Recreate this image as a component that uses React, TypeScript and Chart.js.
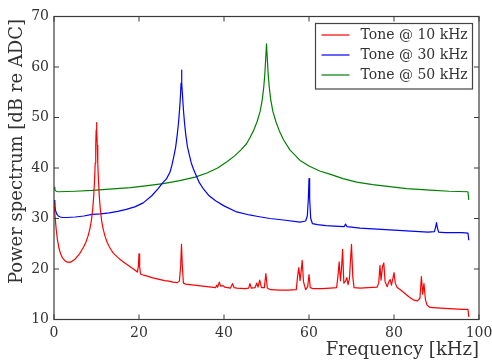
import React, { useEffect, useRef } from "react";
import { Chart, registerables } from "chart.js";

Chart.register(...registerables);

// ---------- data ----------
const seriesLabels = ["Tone @ 10 kHz", "Tone @ 30 kHz", "Tone @ 50 kHz"];
const seriesColors = ["#ff0000", "#0000ff", "#008000"];
const xAxisTitle = "Frequency [kHz]";
const yAxisTitle = "Power spectrum [dB re ADC]";

const xTickValues = [0, 20, 40, 60, 80, 100];
const yTickValues = [10, 20, 30, 40, 50, 60, 70];

const redFreq = [
  0, 0.2, 0.5, 0.8, 1.2, 1.6, 2.0, 2.5, 3.0, 3.5, 4.0, 4.5, 5.0, 5.5, 6.0, 6.5, 7.0, 7.5, 8.0, 8.4, 8.8,
  9.1, 9.35, 9.55, 9.7, 9.82, 9.92, 10.0, 10.08, 10.18, 10.3, 10.45, 10.65, 10.9, 11.2, 11.6, 12.0, 12.5, 13.0,
  13.5, 14.0, 15.0, 16.0, 17.0, 18.0, 19.0, 19.6, 19.85, 20.0, 20.15, 20.35, 21, 22, 23, 24, 25, 26, 27,
  28, 29, 29.5, 29.8, 30.0, 30.2, 30.45, 31, 32, 33, 34, 35, 36, 37, 38, 38.3, 38.5, 38.9, 39.2, 39.8,
  40.2, 41.5, 42.0, 42.4, 43, 45, 45.8, 46.1, 46.4, 47.3, 47.7, 48.0, 48.4, 48.8, 49.5, 49.85, 50.2, 51,
  53, 55, 57, 57.3, 57.6, 57.9, 58.15, 58.4, 58.7, 59.2, 59.7, 60.0, 60.3, 61, 63, 65, 66.5, 66.8, 67.1,
  67.4, 67.65, 67.9, 68.2, 68.6, 68.9, 69.2, 69.5, 69.75, 70.0, 70.3, 70.6, 72, 74, 76, 76.4, 76.7, 76.95,
  77.3, 77.6, 77.9, 78.4, 78.8, 79.1, 79.4, 79.7, 80.0, 80.3, 80.7, 81.5, 82.5, 83.5, 84.5, 85.5, 86.1,
  86.45, 86.75, 87.05, 87.4, 87.8, 88.5, 90, 92, 94, 96, 97.4, 97.6,
];
const redDb = [
  33.0, 31.0, 28.0, 25.8, 24.0, 22.9, 22.2, 21.7, 21.4, 21.3, 21.4, 21.7, 22.0, 22.5, 23.0, 23.7, 24.4, 25.3, 26.5, 27.8, 29.6,
  31.8, 34.5, 37.8, 41.0, 44.5, 47.5, 49.0, 47.5, 44.5, 41.0, 37.8, 34.5, 31.8, 29.6, 27.8, 26.5, 25.3, 24.4,
  23.7, 23.1, 22.3, 21.6, 21.0, 20.4, 19.8, 19.4, 20.5, 23.0, 20.5, 19.0, 18.8, 18.6, 18.3, 18.1, 17.9, 17.7, 17.6,
  17.4, 17.3, 17.6, 20.5, 24.9, 20.5, 17.2, 17.0, 16.9, 16.8, 16.7, 16.6, 16.5, 16.4, 16.3, 16.8, 16.4, 17.4, 16.6, 16.7,
  16.4, 16.2, 17.1, 16.3, 16.2, 16.1, 16.2, 17.1, 16.2, 16.3, 17.2, 16.4, 17.8, 16.3, 16.3, 19.1, 16.2, 15.9,
  15.8, 15.8, 15.9, 18.5, 20.3, 17.7, 19.5, 21.7, 17.5, 15.9, 16.5, 18.9, 16.3, 16.1, 16.1, 16.2, 16.3, 18.5, 21.4,
  17.7, 20.0, 23.9, 17.2, 17.6, 18.3, 16.9, 18.0, 21.5, 24.9, 18.5, 16.3, 16.2, 16.3, 16.4, 17.2, 20.7, 17.8,
  20.5, 21.2, 17.5, 16.5, 17.5, 17.9, 16.8, 18.0, 19.3, 17.2, 16.4, 15.9, 15.2, 14.5, 13.9, 13.7, 14.2,
  18.5, 15.0, 17.1, 13.9, 12.8, 12.4, 12.3, 12.2, 12.1, 12.0, 12.0, 10.5,
];

const blueFreq = [
  0, 0.2, 0.4, 0.7, 1.0, 1.5, 2, 3, 5, 7, 9, 11, 13, 15, 17, 19, 21, 23, 24.5, 25.5, 26.5, 27.3, 27.7,
  28.1, 28.6, 29.0, 29.3, 29.55, 29.75, 29.9, 30.0, 30.1, 30.25, 30.45, 30.7, 31.0, 31.4, 31.9, 32.3,
  32.8, 33.3, 34.2, 35.2, 36.5, 38, 40, 43, 46, 48, 50.8, 54, 57.9, 59.2, 59.6, 59.85, 60.0, 60.15,
  60.4, 60.8, 62, 64, 66, 68.3, 68.6, 68.9, 70, 72, 74, 76, 78, 80, 82, 84, 86, 88, 89.5, 89.8, 90.0,
  90.2, 90.5, 92, 94, 96, 97.4, 97.6,
];
const blueDb = [
  33.6, 32.5, 31.5, 30.8, 30.5, 30.3, 30.2, 30.2, 30.3, 30.5, 30.8, 30.9, 31.1, 31.4, 31.8, 32.3, 33.1, 34.5, 35.9, 37.0, 37.9, 39.2, 40.4,
  41.9, 44.0, 46.6, 49.0, 51.6, 54.2, 56.8, 59.4, 56.8, 54.2, 51.6, 49.0, 46.6, 44.2, 42.4, 41.0,
  39.8, 38.8, 37.1, 35.8, 34.5, 33.5, 32.5, 31.3, 30.7, 30.4, 30.0, 29.7, 29.3, 29.5, 30.5, 34.0, 37.9, 34.0,
  30.0, 29.0, 28.8, 28.6, 28.5, 28.4, 28.9, 28.4, 28.3, 28.1, 28.0, 27.9, 27.8, 27.7, 27.6, 27.5, 27.4, 27.3, 27.4, 28.3, 29.2,
  28.2, 27.3, 27.2, 27.2, 27.2, 27.1, 25.7,
];

const greenFreq = [
  0, 0.2, 0.5, 1, 5, 9, 13, 18, 22, 25.7, 29.6, 33.2, 36, 38.5, 40.6, 42.5, 44, 45.3, 46.1, 47, 47.8,
  48.5, 49.0, 49.35, 49.6, 49.8, 50.0, 50.2, 50.4, 50.65, 51.0, 51.5, 52.2, 53.0, 54.0, 55.5, 57.9,
  60, 62.5, 64.9, 68, 71.2, 75, 79, 83, 88.5, 93, 97.4, 97.6,
];
const greenDb = [
  36.2, 35.7, 35.4, 35.3, 35.4, 35.55, 35.8, 36.1, 36.5, 36.9, 37.5, 38.2, 39.0, 40.0, 41.2, 42.4, 43.6, 44.8, 46.0, 47.5, 49.2,
  51.2, 53.5, 56.0, 58.5, 61.5, 64.6, 61.5, 58.5, 56.0, 53.5, 51.2, 49.2, 47.4, 45.6, 43.6, 41.5,
  40.4, 39.4, 38.8, 37.9, 37.2, 36.7, 36.3, 35.9, 35.6, 35.4, 35.3, 33.7,
];

const seriesFreqs = [redFreq, blueFreq, greenFreq];
const seriesDbs = [redDb, blueDb, greenDb];

const FONT = "'DejaVu Serif', serif";
const TEXT_COLOR = "#333333";
const FRAME_COLOR = "#3a3a3a";

const framePlugin = {
  id: "frameAndLegend",
  afterDraw(chart: any) {
    const { ctx, chartArea, scales } = chart;
    const { left, right, top, bottom } = chartArea;
    ctx.save();
    ctx.strokeStyle = FRAME_COLOR;
    ctx.lineWidth = 1.2;
    ctx.strokeRect(left, top, right - left, bottom - top);
    const tl = 5;
    ctx.lineWidth = 1;
    ctx.beginPath();
    for (const v of xTickValues) {
      const x = scales.x.getPixelForValue(v);
      ctx.moveTo(x, bottom);
      ctx.lineTo(x, bottom - tl);
      ctx.moveTo(x, top);
      ctx.lineTo(x, top + tl);
    }
    for (const v of yTickValues) {
      const y = scales.y.getPixelForValue(v);
      ctx.moveTo(left, y);
      ctx.lineTo(left + tl, y);
      ctx.moveTo(right, y);
      ctx.lineTo(right - tl, y);
    }
    ctx.stroke();

    // y axis title, aligned to the top end of the axis
    ctx.save();
    ctx.translate(17, top + 2.5);
    ctx.rotate(-Math.PI / 2);
    ctx.font = `18px ${FONT}`;
    ctx.fillStyle = TEXT_COLOR;
    ctx.textAlign = "right";
    ctx.textBaseline = "middle";
    ctx.fillText(yAxisTitle, 0, 0);
    ctx.restore();

    // legend box (upper right, inside the axes)
    const boxRight = right - 6.5;
    const boxLeft = boxRight - 157;
    const boxTop = top + 7;
    const boxH = 65.5;
    ctx.fillStyle = "#ffffff";
    ctx.fillRect(boxLeft, boxTop, boxRight - boxLeft, boxH);
    ctx.strokeStyle = "#444444";
    ctx.lineWidth = 1.2;
    ctx.strokeRect(boxLeft, boxTop, boxRight - boxLeft, boxH);
    ctx.font = `14px ${FONT}`;
    ctx.textBaseline = "middle";
    ctx.textAlign = "left";
    chart.data.datasets.forEach((ds: any, i: number) => {
      const y = boxTop + 11.5 + i * 20;
      ctx.strokeStyle = ds.borderColor;
      ctx.lineWidth = 1.2;
      ctx.beginPath();
      ctx.moveTo(boxLeft + 6, y);
      ctx.lineTo(boxLeft + 34, y);
      ctx.stroke();
      ctx.fillStyle = TEXT_COLOR;
      ctx.fillText(ds.label, boxLeft + 45, y);
    });
    ctx.restore();
  },
};

export default function App() {
  const canvasRef = useRef<HTMLCanvasElement | null>(null);

  useEffect(() => {
    const canvas = canvasRef.current;
    if (!canvas) return;
    const datasets = seriesLabels.map((label, i) => ({
      label,
      data: seriesFreqs[i].map((f, j) => ({ x: f, y: seriesDbs[i][j] })),
      borderColor: seriesColors[i],
      backgroundColor: seriesColors[i],
      borderWidth: 1.2,
      borderJoinStyle: "round",
      pointRadius: 0,
      tension: 0,
      fill: false,
    }));
    const chart = new Chart(canvas, {
      type: "line",
      data: { datasets },
      options: {
        responsive: false,
        animation: false,
        parsing: false,
        layout: { padding: { top: 16.5, right: 13, left: 0, bottom: 0 } },
        plugins: { legend: { display: false }, tooltip: { enabled: false } },
        scales: {
          x: {
            type: "linear",
            min: 0,
            max: 100,
            afterBuildTicks: (s: any) => {
              s.ticks = xTickValues.map((v) => ({ value: v }));
            },
            afterFit: (s: any) => {
              s.height = 40.5;
              s.paddingLeft = 0;
              s.paddingRight = 0;
            },
            grid: { display: false, drawTicks: false },
            border: { display: false },
            ticks: {
              font: { family: FONT, size: 14 },
              color: TEXT_COLOR,
              padding: 5,
              maxRotation: 0,
              autoSkip: false,
            },
            title: {
              display: true,
              text: xAxisTitle,
              align: "end",
              color: TEXT_COLOR,
              font: { family: FONT, size: 18, lineHeight: 1.08 },
              padding: { top: 0, bottom: 0 },
            },
          },
          y: {
            type: "linear",
            min: 10,
            max: 70,
            afterBuildTicks: (s: any) => {
              s.ticks = yTickValues.map((v) => ({ value: v }));
            },
            afterFit: (s: any) => {
              s.width = 54;
              s.paddingTop = 0;
              s.paddingBottom = 0;
            },
            grid: { display: false, drawTicks: false },
            border: { display: false },
            ticks: {
              font: { family: FONT, size: 14 },
              color: TEXT_COLOR,
              padding: 5,
              autoSkip: false,
            },
            title: { display: false },
          },
        },
      } as any,
      plugins: [framePlugin],
    });
    return () => chart.destroy();
  }, []);

  return (
    <div style={{ position: "absolute", left: 0, top: 0, width: 492, height: 360, background: "#ffffff" }}>
      <canvas ref={canvasRef} width={492} height={360} style={{ display: "block" }} />
    </div>
  );
}
